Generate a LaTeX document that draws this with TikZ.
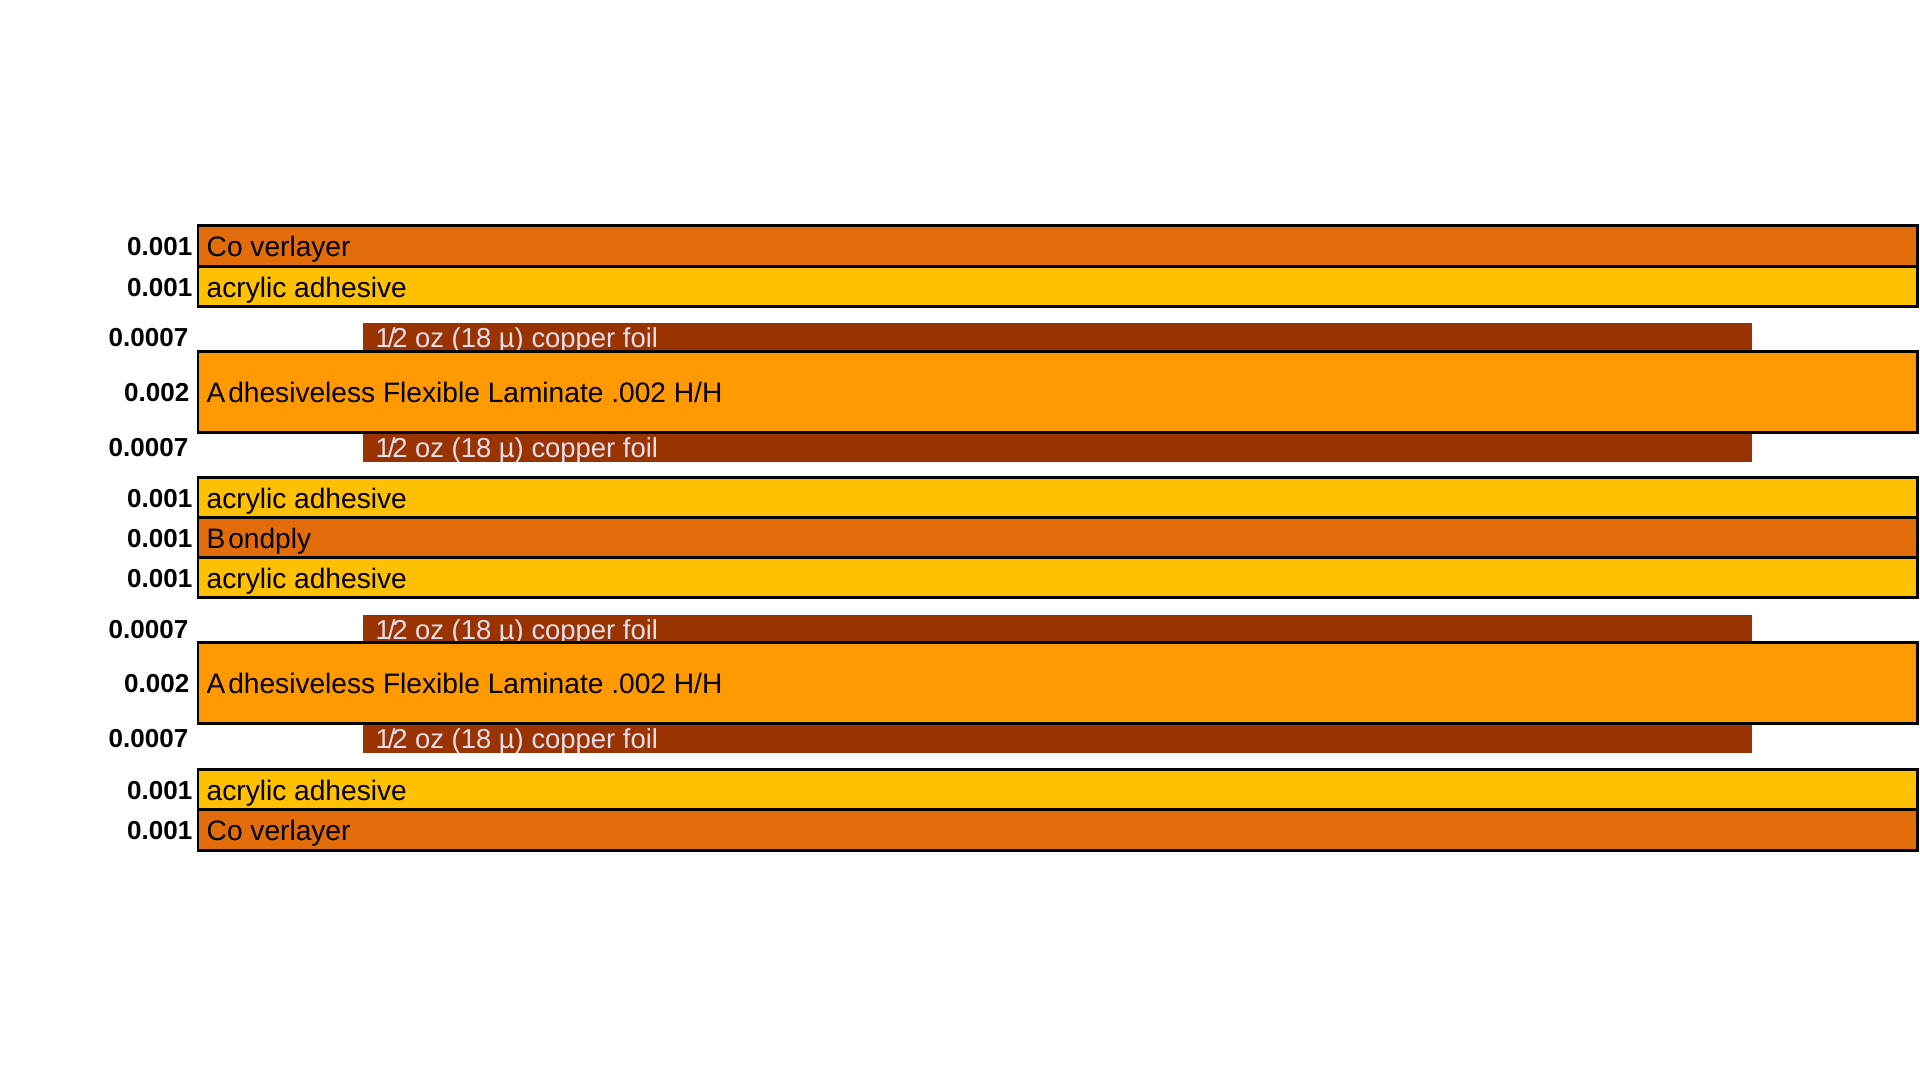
\documentclass[tikz,border=0pt]{standalone}
\usepackage{fontspec}
\setmainfont{Liberation Sans}

\definecolor{coverorange}{RGB}{227,108,10}
\definecolor{acrylicyellow}{RGB}{255,192,0}
\definecolor{laminateorange}{RGB}{255,153,0}
\definecolor{copperbrown}{RGB}{153,51,0}
\definecolor{foilgray}{RGB}{228,222,238}

\newcommand{\foillabel}{1\kern-0.9pt/\kern-0.9pt2 oz (18 µ) copper foil}

\tikzset{
	layer/.style={draw=black, line width=0.85pt},
	foil/.style={fill=copperbrown},
	layertext/.style={anchor=west, inner sep=0pt, text height=5.7pt, text depth=0pt, font=\fontsize{8}{9.6}\selectfont},
	foiltext/.style={layertext, text=foilgray, font=\fontsize{7.8}{9.4}\selectfont},
	mil/.style={anchor=east, inner sep=0pt, text height=5.3pt, text depth=0pt, font=\bfseries\fontsize{7.4}{9}\selectfont}
}

\begin{document}
\begin{tikzpicture}[x=0.01cm, y=-0.01cm]
		\useasboundingbox (0,0) rectangle (1920,1080);
		
		%left and right edges of the full layers and of the foils
		\def\xL{198};
		\def\xR{1917};
		\def\cL{363};
		\def\cR{1752};
		
		%coverlayer and adhesive, top
		\draw [layer, fill=coverorange] (\xL,226) rectangle (\xR,267);
		\node [layertext] (cover1) at (206,246.5) {Co verlayer};
		\node [mil] (t1) at (193,246.5) {0.001};
		
		\draw [layer, fill=acrylicyellow] (\xL,267) rectangle (\xR,307);
		\node [layertext] (acryl1) at (206,287) {acrylic adhesive};
		\node [mil] (t2) at (193,287) {0.001};
		
		%first laminate with its two foils
		\fill [foil] (\cL,323) rectangle (\cR,352);
		\node [foiltext] (foil1) at (375,337.5) {\foillabel};
		\node [mil] (t3) at (189,337.5) {0.0007};
		
		\fill [foil] (\cL,433) rectangle (\cR,462);
		\node [foiltext] (foil2) at (375,447.5) {\foillabel};
		\node [mil] (t5) at (189,447.5) {0.0007};
		
		\draw [layer, fill=laminateorange] (\xL,352) rectangle (\xR,433);
		\node [layertext] (lam1) at (206,392.5) {A\kern0.8pt dhesiveless Flexible Laminate .002 H/H};
		\node [mil] (t4) at (190,392.5) {0.002};
		
		%bondply between two adhesives
		\draw [layer, fill=acrylicyellow] (\xL,478) rectangle (\xR,518);
		\node [layertext] (acryl2) at (206,498) {acrylic adhesive};
		\node [mil] (t6) at (193,498) {0.001};
		
		\draw [layer, fill=coverorange] (\xL,518) rectangle (\xR,558);
		\node [layertext] (bond) at (206,538) {B\kern0.8pt ondply};
		\node [mil] (t7) at (193,538) {0.001};
		
		\draw [layer, fill=acrylicyellow] (\xL,558) rectangle (\xR,598);
		\node [layertext] (acryl3) at (206,578) {acrylic adhesive};
		\node [mil] (t8) at (193,578) {0.001};
		
		%second laminate with its two foils
		\fill [foil] (\cL,615) rectangle (\cR,643);
		\node [foiltext] (foil3) at (375,629) {\foillabel};
		\node [mil] (t9) at (189,629) {0.0007};
		
		\fill [foil] (\cL,724) rectangle (\cR,753);
		\node [foiltext] (foil4) at (375,738.5) {\foillabel};
		\node [mil] (t11) at (189,738.5) {0.0007};
		
		\draw [layer, fill=laminateorange] (\xL,643) rectangle (\xR,724);
		\node [layertext] (lam2) at (206,683.5) {A\kern0.8pt dhesiveless Flexible Laminate .002 H/H};
		\node [mil] (t10) at (190,683.5) {0.002};
		
		%adhesive and coverlayer, bottom
		\draw [layer, fill=acrylicyellow] (\xL,770) rectangle (\xR,810);
		\node [layertext] (acryl4) at (206,790) {acrylic adhesive};
		\node [mil] (t12) at (193,790) {0.001};
		
		\draw [layer, fill=coverorange] (\xL,810) rectangle (\xR,851);
		\node [layertext] (cover2) at (206,830.5) {Co verlayer};
		\node [mil] (t13) at (193,830.5) {0.001};
		
	\end{tikzpicture}
\end{document}
